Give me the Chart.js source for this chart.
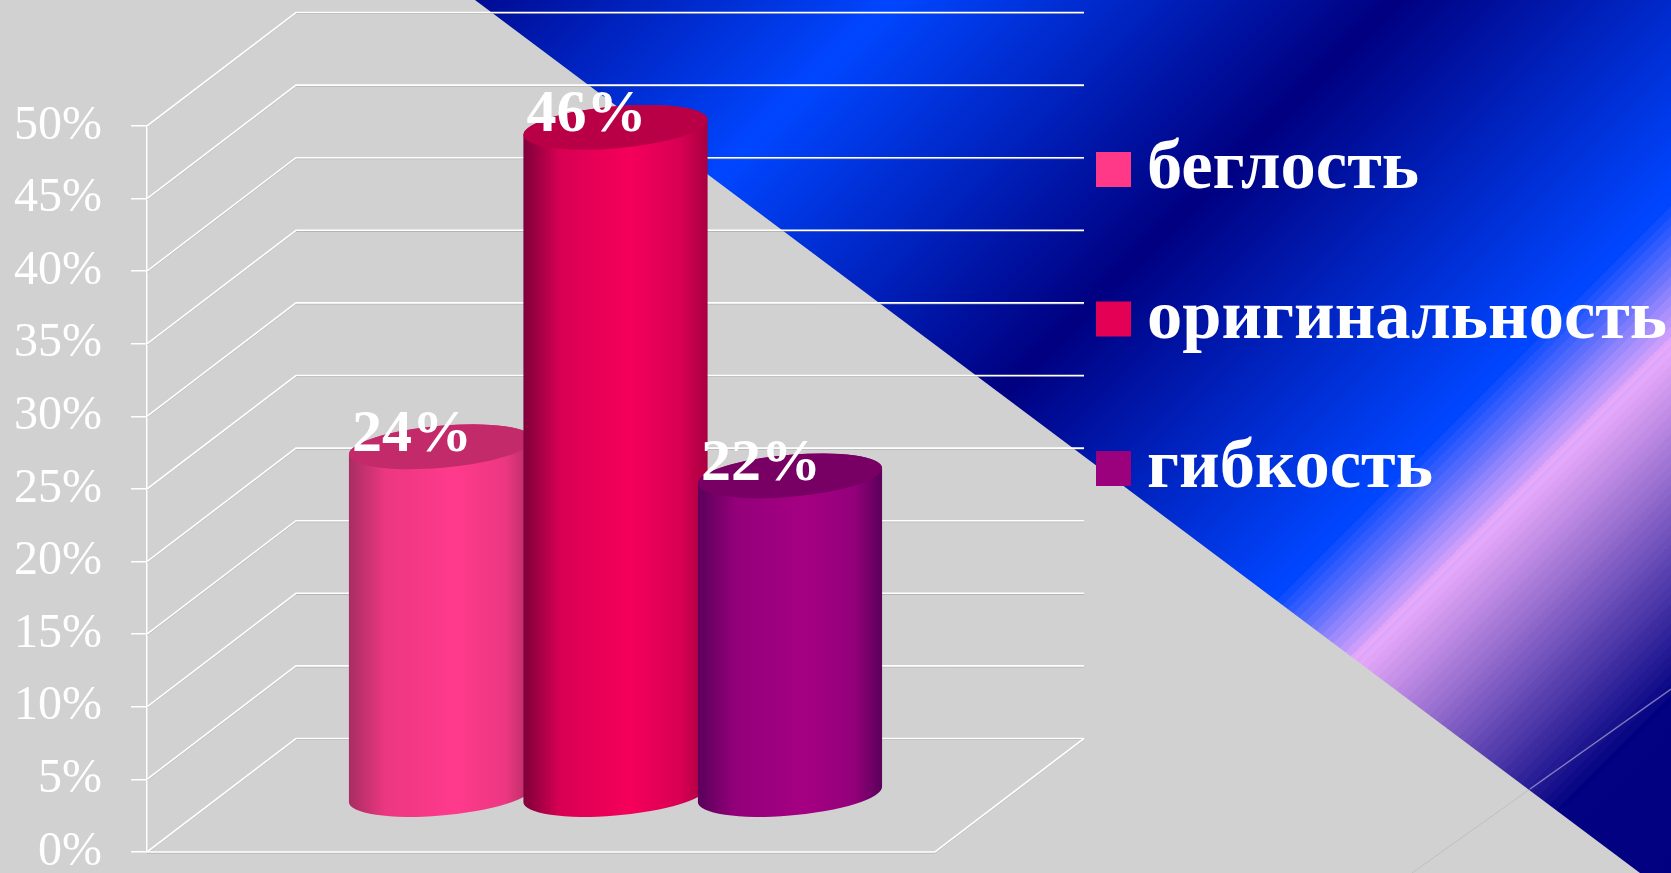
<!DOCTYPE html>
<html>
<head>
<meta charset="utf-8">
<title>chart</title>
<style>
  html, body { margin: 0; padding: 0; background: #d1d1d1; overflow: hidden; }
  canvas { display: block; }
</style>
<script src="https://cdn.jsdelivr.net/npm/chart.js@4/dist/chart.umd.js"></script>
</head>
<body>
<canvas id="myChart" width="1671" height="873"></canvas>
<script>
const categories = ["Ряд 1"];
const seriesNames = ["беглость", "оригинальность", "гибкость"];
const seriesValues = [24, 46, 22];

const yMin = 0;
const yMax = 50;
const yStep = 5;

// styles
const serif = "'Liberation Serif', serif";
const legendColors = ["#ff3888", "#e40055", "#9b007d"];
const capColors = ["#c32a69", "#b90046", "#780064"];
const bodyColors = [
  ["#a82d62", "#ec3781", "#ff3a8c", "#ec3781", "#b02c64"],
  ["#7e003a", "#d80053", "#f5005a", "#d80053", "#a80040"],
  ["#5a005a", "#93007a", "#a50082", "#93007a", "#5a005a"],
];

// how far the back wall sits from the front plane of the box
const depthX = 149;
const depthY = 113.5;
const cylinderRy = 21;
const cylinderTilt = (-5 * Math.PI) / 180;

function mix(a, b, t) {
  return a.map((v, i) => Math.round(v + (b[i] - v) * t));
}

function rgb(c) {
  return `rgb(${c[0]},${c[1]},${c[2]})`;
}

function drawBackground(chart) {
  const ctx = chart.ctx;
  const w = chart.width;
  const h = chart.height;
  const total = w + h;
  const navy = [0, 0, 128];
  const blue = [0, 70, 255];
  const pink = [232, 170, 250];

  // bands run along x + y = const
  const grad = ctx.createLinearGradient(0, 0, total / 2, total / 2);
  const stop = (c, color) => grad.addColorStop(Math.min(c / total, 1), rgb(color));
  stop(400, navy);
  stop(895, blue);
  stop(1395, navy);
  stop(1867, blue);
  for (let c = 1867; c < 2015; c += 10) {
    const col = mix(blue, pink, (c - 1867) / 148);
    stop(c, col);
    stop(c + 10, col);
  }
  for (let c = 2015; c < 2370; c += 10) {
    const col = mix(pink, navy, (c - 2015) / 355);
    stop(c, col);
    stop(c + 10, col);
  }
  stop(2370, navy);
  stop(total, navy);
  ctx.fillStyle = grad;
  ctx.fillRect(0, 0, w, h);

  // faint line of the slide background
  ctx.strokeStyle = "rgba(255,255,255,0.45)";
  ctx.lineWidth = 1.5;
  ctx.beginPath();
  ctx.moveTo(1671, 689);
  ctx.lineTo(1530, 789);
  ctx.stroke();

  ctx.fillStyle = "#d1d1d1";
  ctx.beginPath();
  ctx.moveTo(0, 0);
  ctx.lineTo(475, 0);
  ctx.lineTo(1640, 873);
  ctx.lineTo(0, 873);
  ctx.closePath();
  ctx.fill();

  ctx.strokeStyle = "rgba(160,160,160,0.35)";
  ctx.lineWidth = 1;
  ctx.beginPath();
  ctx.moveTo(1530, 789);
  ctx.lineTo(1412, 873);
  ctx.stroke();
}

function wallLine(ctx, points) {
  const trace = (off) => {
    ctx.beginPath();
    points.forEach((p, i) => {
      if (i === 0) ctx.moveTo(p[0], p[1] + off);
      else ctx.lineTo(p[0], p[1] + off);
    });
    ctx.stroke();
  };
  ctx.strokeStyle = "rgba(150,150,150,0.6)";
  ctx.lineWidth = 1;
  trace(1);
  ctx.strokeStyle = "#ffffff";
  ctx.lineWidth = 1.6;
  trace(0);
}

function drawWalls(chart) {
  const ctx = chart.ctx;
  const y = chart.scales.y;
  const left = chart.chartArea.left;
  const right = chart.chartArea.right;
  for (let v = yMin; v <= yMax; v += yStep) {
    const py = y.getPixelForValue(v);
    wallLine(ctx, [
      [left, py],
      [left + depthX, py - depthY],
      [right + depthX, py - depthY],
    ]);
  }
  const py0 = y.getPixelForValue(yMin);
  wallLine(ctx, [
    [left, py0],
    [right, py0],
    [right + depthX, py0 - depthY],
  ]);
}

function drawCylinder(ctx, bar, index) {
  // bars stand in the middle of the box depth
  const cx = bar.x + depthX / 2;
  const top = bar.y - depthY / 2;
  const base = bar.base - depthY / 2;
  const halfW = bar.width / 2;
  const rx = halfW * 1.005;
  const t0 = Math.atan((-cylinderRy / rx) * Math.tan(cylinderTilt));

  const grad = ctx.createLinearGradient(cx - halfW, 0, cx + halfW, 0);
  const colors = bodyColors[index];
  [0, 0.2, 0.58, 0.85, 1].forEach((s, i) => grad.addColorStop(s, colors[i]));

  ctx.fillStyle = grad;
  ctx.beginPath();
  ctx.ellipse(cx, base, rx, cylinderRy, cylinderTilt, t0 + Math.PI, t0, true);
  ctx.ellipse(cx, top, rx, cylinderRy, cylinderTilt, t0, t0 - Math.PI, true);
  ctx.closePath();
  ctx.fill();

  ctx.fillStyle = capColors[index];
  ctx.beginPath();
  ctx.ellipse(cx, top, rx, cylinderRy, cylinderTilt, 0, Math.PI * 2);
  ctx.fill();
}

function drawValueLabels(chart) {
  const ctx = chart.ctx;
  ctx.fillStyle = "#ffffff";
  ctx.font = `bold 60px ${serif}`;
  ctx.textAlign = "center";
  ctx.textBaseline = "alphabetic";
  seriesValues.forEach((v, i) => {
    const bar = chart.getDatasetMeta(i).data[0];
    ctx.fillText(`${v}%`, bar.x + depthX / 2 - 29, bar.y - depthY / 2 + 4);
  });
}

function drawLegend(chart) {
  const ctx = chart.ctx;
  ctx.textAlign = "left";
  ctx.textBaseline = "alphabetic";
  ctx.font = `bold 70.5px ${serif}`;
  seriesNames.forEach((name, i) => {
    const boxTop = 152 + i * 149.5;
    ctx.fillStyle = legendColors[i];
    ctx.fillRect(1096, boxTop, 35, 35);
    ctx.fillStyle = "#ffffff";
    ctx.fillText(name, 1147, boxTop + 36);
  });
}

const sceneryPlugin = {
  id: "scenery",
  beforeDraw(chart) {
    drawBackground(chart);
  },
  beforeDatasetsDraw(chart) {
    drawWalls(chart);
    // left to right, so the later cylinder covers the earlier one
    seriesValues.forEach((v, i) => {
      drawCylinder(chart.ctx, chart.getDatasetMeta(i).data[0], i);
    });
    return false;
  },
  afterDraw(chart) {
    drawValueLabels(chart);
    drawLegend(chart);
  },
};

new Chart(document.getElementById("myChart").getContext("2d"), {
  type: "bar",
  plugins: [sceneryPlugin],
  data: {
    labels: categories,
    datasets: seriesNames.map((name, i) => ({
      label: name,
      data: [seriesValues[i]],
      backgroundColor: legendColors[i],
      categoryPercentage: 0.6643,
      barPercentage: 1.054,
    })),
  },
  options: {
    responsive: false,
    animation: false,
    layout: { padding: { left: 0, top: 126, right: 736, bottom: 21 } },
    plugins: {
      legend: { display: false },
      title: { display: false },
      tooltip: { enabled: false },
    },
    scales: {
      x: { display: false },
      y: {
        min: yMin,
        max: yMax,
        afterFit(scale) {
          scale.width = 147;
          scale.paddingTop = 0;
          scale.paddingBottom = 0;
        },
        border: { color: "#ffffff", width: 1.5 },
        grid: { drawOnChartArea: false, color: "#ffffff", lineWidth: 1.5, tickLength: 16 },
        ticks: {
          stepSize: yStep,
          autoSkip: false,
          padding: 29,
          color: "#ffffff",
          font: { family: serif, size: 48 },
          callback: (v) => `${v}%`,
        },
      },
    },
  },
});
</script>
</body>
</html>
